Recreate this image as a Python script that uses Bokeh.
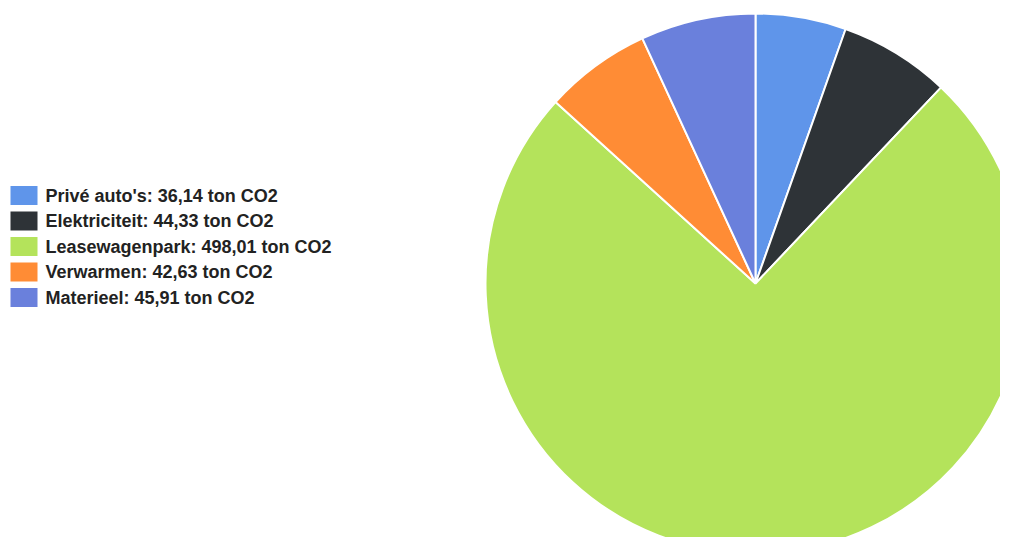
import math
from bokeh.plotting import figure
from bokeh.models import Range1d, ColumnDataSource
from bokeh.core.properties import value
from bokeh.embed import file_html
from bokeh.resources import INLINE

categories = ["Privé auto's", "Elektriciteit", "Leasewagenpark", "Verwarmen", "Materieel"]
values = [36.14, 44.33, 498.01, 42.63, 45.91]
colors = ["#5f95ea", "#2e3337", "#b4e35b", "#ff8c35", "#6a80dc"]
unit = "ton CO2"

W, H = 1000, 537
p = figure(width=W, height=H, output_backend="svg", toolbar_location=None,
           x_range=Range1d(0, W), y_range=Range1d(0, H), min_border=0)
p.axis.visible = False
p.grid.visible = False
p.outline_line_color = None
p.background_fill_color = "white"
p.border_fill_color = "white"

def sy(screen_y):
    return H - screen_y

# pie
total = sum(values)
starts, ends = [], []
acc = 0.0
for v in values:
    a0 = math.pi / 2 - acc / total * 2 * math.pi
    acc += v
    a1 = math.pi / 2 - acc / total * 2 * math.pi
    starts.append(a0)
    ends.append(a1)

src = ColumnDataSource(dict(start=starts, end=ends, color=colors, cat=categories, val=values))
p.wedge(x=755, y=sy(283), radius=270, radius_units="screen",
        start_angle="start", end_angle="end", direction="clock",
        fill_color="color", line_color="white", line_width=2, source=src)

# legend
labels = [f"{c}: {v:.2f}".replace(".", ",") + f" {unit}" for c, v in zip(categories, values)]
row_y = [sy(195 + i * 25.5) for i in range(len(categories))]
lsrc = ColumnDataSource(dict(y=row_y, color=colors, label=labels))
p.rect(x=23.5, y="y", width=27, height=19, fill_color="color", line_color=None, source=lsrc)
p.text(x=45, y="y", text="label", text_font=value("Liberation Sans"), text_font_style="bold",
       text_font_size="18px", text_color="#222222", text_baseline="middle", text_align="left", source=lsrc)

open("out.html", "w").write(file_html(p, INLINE))
